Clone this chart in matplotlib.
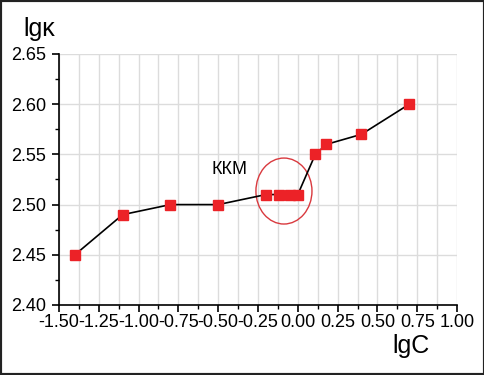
import matplotlib
matplotlib.use('Agg')
import matplotlib.pyplot as plt
from matplotlib.patches import Ellipse, Rectangle
from matplotlib.ticker import MultipleLocator

plt.rcParams['font.family'] = ['Liberation Sans', 'DejaVu Sans']

# data
lgC = [-1.40, -1.10, -0.80, -0.50, -0.20, -0.12, -0.05, 0.00, 0.11, 0.18, 0.40, 0.70]
lgk = [2.45, 2.49, 2.50, 2.50, 2.51, 2.51, 2.51, 2.51, 2.55, 2.56, 2.57, 2.60]
x_ticks = [-1.50, -1.25, -1.00, -0.75, -0.50, -0.25, 0.00, 0.25, 0.50, 0.75, 1.00]
y_ticks = [2.40, 2.45, 2.50, 2.55, 2.60, 2.65]

fig = plt.figure(figsize=(4.85, 3.75), dpi=100)
ax = fig.add_axes([0.1216, 0.1867, 0.8207, 0.6693])

ax.plot(lgC, lgk, color='black', lw=1.2, zorder=3)
ax.plot(lgC, lgk, 's', color='#ec2227', ms=7, mec='#ec2227', zorder=4, linestyle='none')

ax.set_xlim(-1.5, 1.0)
ax.set_ylim(2.40, 2.65)
ax.set_xticks(x_ticks)
ax.set_xticklabels(['%.2f' % v for v in x_ticks])
ax.set_yticks(y_ticks)
ax.set_yticklabels(['%.2f' % v for v in y_ticks])
ax.xaxis.set_minor_locator(MultipleLocator(0.125))
ax.yaxis.set_minor_locator(MultipleLocator(0.025))

ax.grid(True, which='both', axis='x', color='#dcdcdc', lw=1)
ax.grid(True, which='major', axis='y', color='#dcdcdc', lw=1)
ax.set_axisbelow(True)

for s in ['top', 'right']:
    ax.spines[s].set_visible(False)
for s in ['left', 'bottom']:
    ax.spines[s].set_linewidth(1.2)

ax.tick_params(which='major', direction='out', length=5, width=1.2, labelsize=13)
ax.tick_params(axis='x', which='major', pad=1.5)
ax.tick_params(axis='y', which='major', pad=4)
ax.tick_params(which='minor', direction='out', length=3, width=1.0)

# ККМ ellipse
ax.add_patch(Ellipse((-0.087, 2.5135), 0.352, 0.0657, fill=False, edgecolor='#d9393e', lw=1))
ax.text(-0.54, 2.535, 'ККМ', fontsize=13, va='center', ha='left')

fig.text(0.048, 0.922, 'lgκ', fontsize=18, va='center', ha='left')
fig.text(0.808, 0.078, 'lgC', fontsize=18, va='center', ha='left')

fig.patches.append(Rectangle((0, 0), 1, 1, transform=fig.transFigure, fill=False,
                             edgecolor='#222222', lw=3))

fig.savefig('out.png', dpi=100)
